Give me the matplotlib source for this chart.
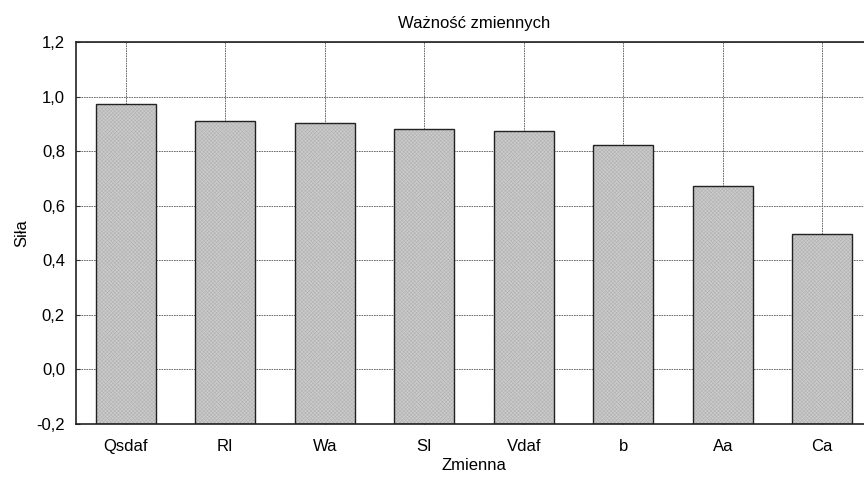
import matplotlib
matplotlib.use("Agg")
import matplotlib.pyplot as plt

categories = ["Qsdaf", "RI", "Wa", "SI", "Vdaf", "b", "Aa", "Ca"]
values = [0.972, 0.910, 0.903, 0.881, 0.873, 0.822, 0.672, 0.496]
yticks = [-0.2, 0.0, 0.2, 0.4, 0.6, 0.8, 1.0, 1.2]
ytick_labels = ["-0,2", "0,0", "0,2", "0,4", "0,6", "0,8", "1,0", "1,2"]

plt.rcParams['font.family'] = ['Liberation Sans', 'DejaVu Sans']
plt.rcParams['hatch.linewidth'] = 0.4

fig = plt.figure(figsize=(8.64, 4.79), dpi=100)
ax = fig.add_axes([76/864, 1 - 424/479, (872-76)/864, (424-42)/479])

x = list(range(len(categories)))
base = -0.2
heights = [v - base for v in values]
ax.bar(x, heights, bottom=base, width=0.6, color="#cbcbcb", edgecolor="#b2b2b2",
       hatch="xxxxxxxxx", linewidth=0, zorder=2)
ax.bar(x, heights, bottom=base, width=0.6, color="none", edgecolor="#222222",
       linewidth=1.0, zorder=3)

fs = 12
ax.set_xlim(-0.5, 7.5)
ax.set_ylim(-0.2, 1.2)
ax.set_xticks(x)
ax.set_xticklabels(categories, fontsize=fs)
ax.set_yticks(yticks)
ax.set_yticklabels(ytick_labels, fontsize=fs)
ax.tick_params(direction="in", length=3, color="#333333")
ax.tick_params(axis="x", pad=11)
ax.tick_params(axis="y", pad=8)
ax.grid(True, linestyle=(0, (2, 1)), color="#555555", linewidth=0.6, zorder=0)
ax.set_axisbelow(True)
for s in ax.spines.values():
    s.set_linewidth(1.2)
    s.set_color("#222222")

ax.set_title("Ważność zmiennych", fontsize=fs, pad=10)
ax.set_xlabel("Zmienna", fontsize=fs, labelpad=3)
ax.set_ylabel("Siła", fontsize=fs, labelpad=5)

fig.savefig("out.png", dpi=100)
